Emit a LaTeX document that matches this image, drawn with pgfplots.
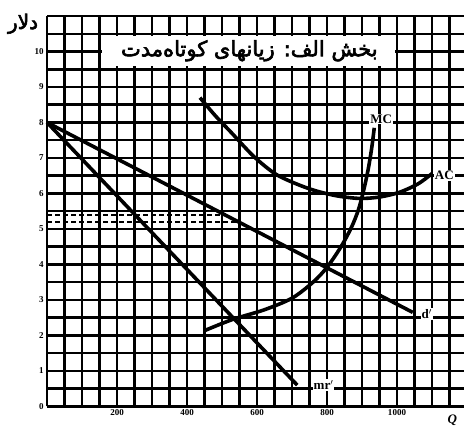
\documentclass[border=0pt]{standalone}
\usepackage{pgfplots}
\pgfplotsset{compat=1.18}
\usepackage{fontspec}
\setmainfont{Liberation Serif}
\newfontfamily\arabicfont[Script=Arabic, FakeBold=3]{DejaVu Sans}
\TeXXeTstate=1
\begin{document}
\begin{tikzpicture}
\begin{axis}[
  scale only axis, width=416pt, height=390pt,
  xmin=0, xmax=1190, ymin=0, ymax=11,
  axis lines=left, axis line style={-, line width=2.8pt},
  xtick={0,50,...,1150}, xticklabels={},
  ytick={0,0.5,...,11}, yticklabels={},
  extra x ticks={200,400,600,800,1000},
  extra y ticks={0,1,...,10},
  extra tick style={grid=none},
  extra x tick labels={200,400,600,800,1000},
  extra y tick labels={0,1,2,3,4,5,6,7,8,9,10},
  grid=major,
  major grid style={black, line width=2.5pt},
  tick style={draw=none},
  major tick length=0pt, minor tick length=0pt,
  tick label style={font=\bfseries\fontsize{9}{9}\selectfont},
  /pgf/number format/assume math mode=true,
  clip=false,
]
% title box
\fill[white] (axis cs:157,9.58) rectangle (axis cs:993,10.43);
\node at (axis cs:578,10.02) {\arabicfont\fontsize{21}{21}\selectfont\beginR بخش الف: زیانهای کوتاه‌مدت\endR};
% dashed price lines
\addplot[black, line width=2pt, dash pattern=on 5pt off 3pt] coordinates {(0,5.38) (512,5.38)};
\addplot[black, line width=2pt, dash pattern=on 5pt off 3pt] coordinates {(0,5.2) (540,5.2)};
% d'
\addplot[black, line width=3.6pt] coordinates {(0,8) (1045,2.65)};
% mr'
\addplot[black, line width=3.6pt] coordinates {(0,8) (715,0.6)};
% MC
\addplot[black, line width=3.6pt, smooth] coordinates {
 (451,2.14) (530,2.45) (620,2.72) (700,3.05) (760,3.5) (800,3.92) (840,4.5)
 (870,5.05) (890,5.55) (905,6.1) (918,6.7) (928,7.3) (935,7.85)};
% AC
\addplot[black, line width=3.6pt, smooth] coordinates {
 (437,8.7) (480,8.2) (529,7.69) (590,7.05) (651,6.56) (710,6.28) (766,6.08)
 (830,5.93) (894,5.86) (950,5.9) (1006,6.03) (1060,6.27) (1100,6.56)};
% labels
\node[fill=white, inner sep=1pt, font=\bfseries\fontsize{13}{13}\selectfont] at (axis cs:955,8.1) {MC};
\node[fill=white, inner sep=1pt, anchor=west, font=\bfseries\fontsize{13}{13}\selectfont] at (axis cs:1105,6.5) {AC};
\node[fill=white, inner sep=1pt, font=\bfseries\fontsize{13}{13}\selectfont] at (axis cs:1085,2.6) {d$'$};
\node[fill=white, inner sep=1pt, font=\bfseries\fontsize{13}{13}\selectfont] at (axis cs:790,0.6) {mr$'$};
\node[font=\bfseries\itshape\fontsize{13}{13}\selectfont] at (axis cs:1158,-0.38) {Q};
\node[font=\arabicfont\fontsize{20}{20}\selectfont] at ([xshift=-24pt]axis cs:0,10.78) {\beginR دلار\endR};
\end{axis}
\pgfresetboundingbox
\path ([xshift=-47pt,yshift=-24pt]current axis.south west) rectangle ([xshift=0.5pt,yshift=16pt]current axis.north east);
\end{tikzpicture}
\end{document}
